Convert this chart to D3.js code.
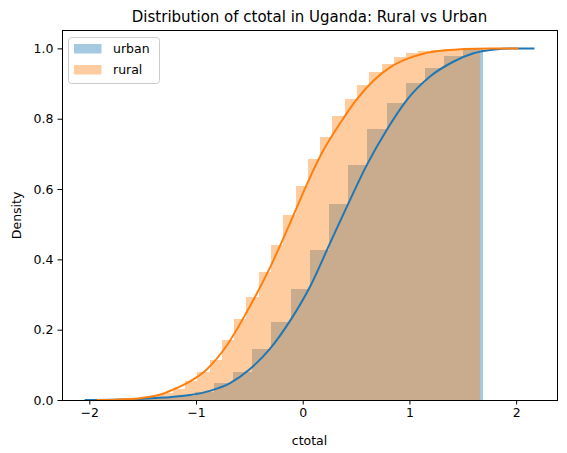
<!DOCTYPE html>
<html>
<head>
<meta charset="utf-8">
<script src="https://cdn.jsdelivr.net/npm/d3@7"></script>
<style>
  body { margin: 0; background: #fff; }
  svg { font-family: "DejaVu Sans", sans-serif; }
</style>
</head>
<body>
<div id="chart"></div>
<script>
// cumulative density histograms (equal-width bins over each range)
var urbanRange = [-1.553, 1.685];
var urbanHeights = [0.003, 0.005, 0.010, 0.022, 0.0475, 0.080, 0.145, 0.223, 0.316,
	0.427, 0.557, 0.668, 0.771, 0.846, 0.902, 0.944, 0.979, 1.0];
var ruralRange = [-1.563, 1.659];
var ruralHeights = [0.007, 0.011, 0.019, 0.030, 0.055, 0.0805, 0.114, 0.171, 0.229,
	0.294, 0.365, 0.441, 0.526, 0.609, 0.685, 0.748, 0.808, 0.856, 0.896, 0.932,
	0.956, 0.975, 0.986, 0.993, 0.996, 0.998, 0.999, 1.0];

// smoothed cumulative curves
var urbanCurveX = [-2.044, -1.6, -1.3, -1.056, -0.869, -0.681, -0.494, -0.306, -0.119,
	0.068, 0.256, 0.428, 0.6, 0.787, 0.975, 1.193, 1.411, 1.6, 1.8, 2.0, 2.172];
var urbanCurveY = [0.0, 0.002, 0.007, 0.014, 0.026, 0.048, 0.088, 0.146, 0.225,
	0.322, 0.446, 0.559, 0.668, 0.768, 0.853, 0.920, 0.962, 0.986, 0.997, 1.0, 1.0];
var ruralCurveX = [-1.93, -1.75, -1.524, -1.35, -1.213, -1.056, -0.9, -0.712, -0.525,
	-0.306, -0.119, 0.037, 0.193, 0.35, 0.506, 0.662, 0.818, 0.975, 1.13, 1.287,
	1.505, 1.75, 2.02];
var ruralCurveY = [0.0, 0.001, 0.005, 0.014, 0.030, 0.053, 0.087, 0.155, 0.250,
	0.377, 0.503, 0.612, 0.710, 0.787, 0.855, 0.908, 0.946, 0.970, 0.985, 0.993,
	0.998, 1.0, 1.0];

var xTicks = [-2, -1, 0, 1, 2];
var yTicks = [0.0, 0.2, 0.4, 0.6, 0.8, 1.0];
var seriesNames = ["urban", "rural"];
var seriesColors = ["#1f77b4", "#ff7f0e"];

var width = 567, height = 453;
var plot = { left: 62, right: 557, top: 30.8, bottom: 400 };

var svg = d3.select("#chart")
	.append("svg")
	.attr("width", width)
	.attr("height", height);

var x = d3.scaleLinear().domain([-2.256, 2.383]).range([plot.left, plot.right]);
var y = d3.scaleLinear().domain([0, 1.05]).range([plot.bottom, plot.top]);

function bins(range, heights) {
	var w = (range[1] - range[0]) / heights.length;
	return heights.map(function(h, i) {
		return { x0: range[0] + i * w, x1: range[0] + (i + 1) * w, h: h };
	});
}

function drawHist(data, color) {
	svg.append("g")
		.selectAll("rect")
		.data(data)
		.enter()
		.append("rect")
		.attr("x", function(d) { return x(d.x0); })
		.attr("width", function(d) { return x(d.x1) - x(d.x0); })
		.attr("y", function(d) { return y(d.h); })
		.attr("height", function(d) { return y(0) - y(d.h); })
		.attr("fill", color)
		.attr("fill-opacity", 0.4)
		.attr("shape-rendering", "crispEdges");
}

drawHist(bins(urbanRange, urbanHeights), seriesColors[0]);
drawHist(bins(ruralRange, ruralHeights), seriesColors[1]);

var line = d3.line()
	.x(function(d) { return x(d[0]); })
	.y(function(d) { return y(d[1]); })
	.curve(d3.curveMonotoneX);

svg.append("path")
	.attr("d", line(d3.zip(urbanCurveX, urbanCurveY)))
	.attr("fill", "none")
	.attr("stroke", seriesColors[0])
	.attr("stroke-width", 2);
svg.append("path")
	.attr("d", line(d3.zip(ruralCurveX, ruralCurveY)))
	.attr("fill", "none")
	.attr("stroke", seriesColors[1])
	.attr("stroke-width", 2);

// axes
var xAxis = svg.append("g")
	.attr("transform", "translate(0," + plot.bottom + ")")
	.call(d3.axisBottom(x).tickValues(xTicks).tickSize(4.5).tickPadding(4).tickFormat(d3.format("d")));
var yAxis = svg.append("g")
	.attr("transform", "translate(" + plot.left + ",0)")
	.call(d3.axisLeft(y).tickValues(yTicks).tickSize(4.5).tickPadding(4).tickFormat(d3.format(".1f")));
[xAxis, yAxis].forEach(function(a) {
	a.select(".domain").remove();
	a.selectAll("text").attr("font-size", 12.5).attr("fill", "#000")
		.attr("font-family", "DejaVu Sans");
	a.selectAll("line").attr("stroke", "#000").attr("stroke-width", 1);
});

svg.append("rect")
	.attr("x", plot.left)
	.attr("y", plot.top)
	.attr("width", plot.right - plot.left)
	.attr("height", plot.bottom - plot.top)
	.attr("fill", "none")
	.attr("stroke", "#000")
	.attr("stroke-width", 1)
	.attr("shape-rendering", "crispEdges");

svg.append("text")
	.attr("x", (plot.left + plot.right) / 2)
	.attr("y", 22)
	.attr("text-anchor", "middle")
	.attr("font-size", 15)
	.text("Distribution of ctotal in Uganda: Rural vs Urban");
svg.append("text")
	.attr("x", (plot.left + plot.right) / 2)
	.attr("y", 445)
	.attr("text-anchor", "middle")
	.attr("font-size", 12.5)
	.text("ctotal");
svg.append("text")
	.attr("transform", "translate(21," + (plot.top + plot.bottom) / 2 + ") rotate(-90)")
	.attr("text-anchor", "middle")
	.attr("font-size", 12.5)
	.text("Density");

// legend
var legend = svg.append("g").attr("transform", "translate(68.5,37.5)");
legend.append("rect")
	.attr("width", 91)
	.attr("height", 46)
	.attr("rx", 3)
	.attr("fill", "#fff")
	.attr("fill-opacity", 0.8)
	.attr("stroke", "#ccc")
	.attr("stroke-width", 1);
seriesNames.forEach(function(name, i) {
	legend.append("rect")
		.attr("x", 5.5)
		.attr("y", 6.5 + i * 21)
		.attr("width", 27.5)
		.attr("height", 9.5)
		.attr("fill", seriesColors[i])
		.attr("fill-opacity", 0.4);
	legend.append("text")
		.attr("x", 44.5)
		.attr("y", 11.5 + i * 21)
		.attr("dy", "0.35em")
		.attr("font-size", 12.5)
		.text(name);
});
</script>
</body>
</html>
